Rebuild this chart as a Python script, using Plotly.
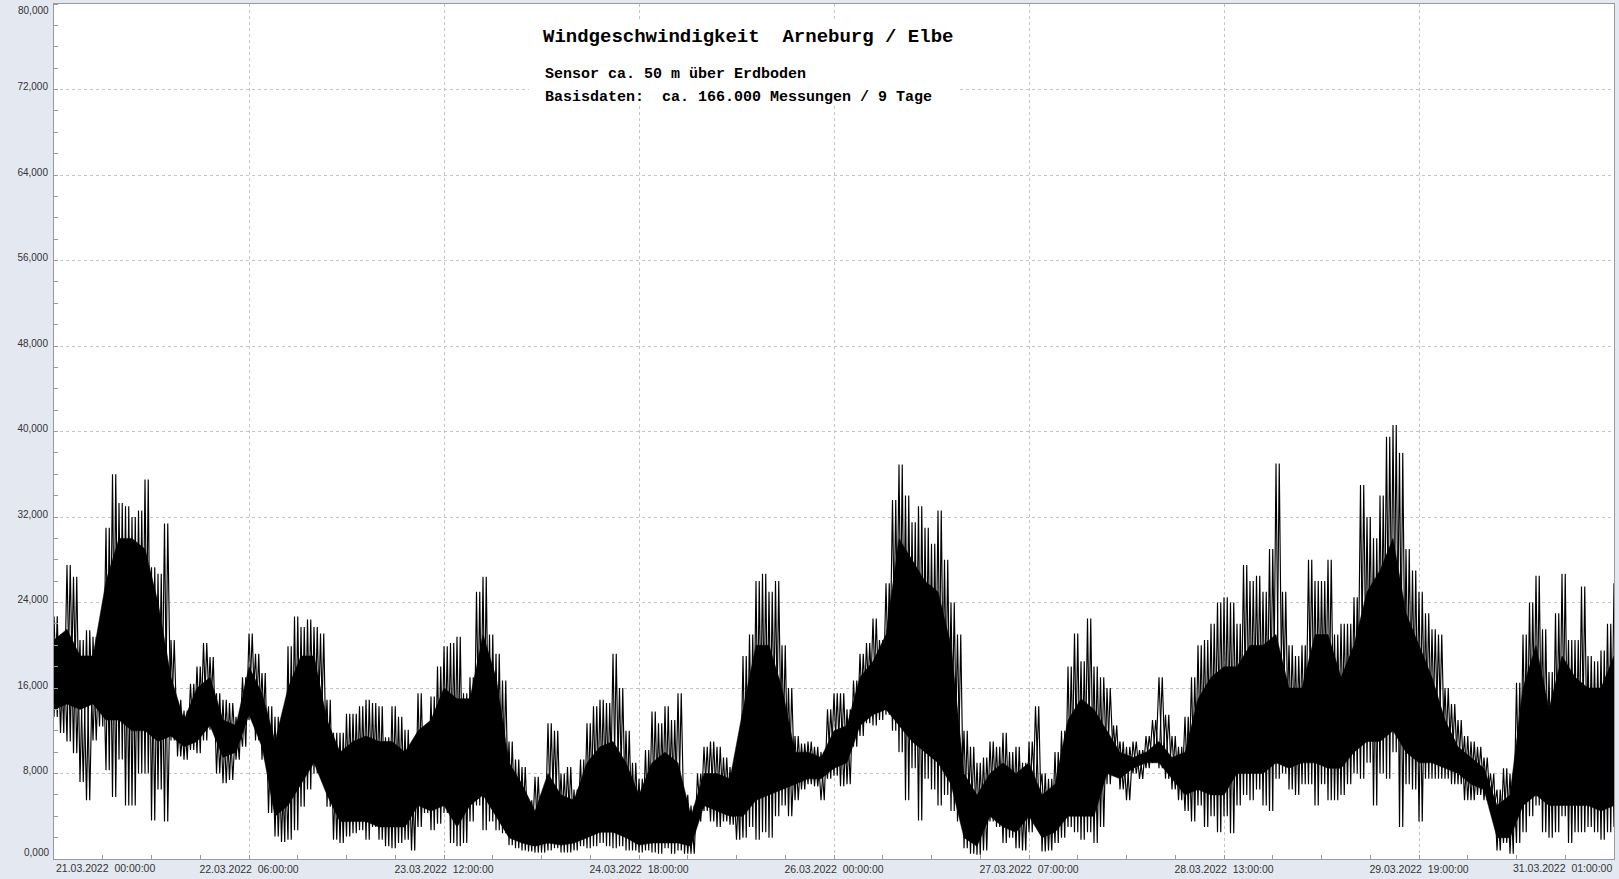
import plotly.graph_objects as go

# --- data (wind speed) ------------------------------------------------------
# hours since 21.03.2022 00:00, one envelope value per hour
hours = list(range(0, 241))
# upper spike envelope per hour
upper = [
    22.7, 21.0, 27.5, 26.4, 20.5, 21.4, 20.8, 21.1, 31.0, 36.0,
    33.3, 33.0, 32.0, 32.6, 35.5, 27.3, 26.7, 31.4, 20.5, 14.9,
    13.9, 16.4, 18.0, 20.2, 18.9, 15.5, 14.9, 14.6, 13.3, 17.0,
    21.1, 19.2, 17.4, 14.3, 13.3, 11.1, 19.9, 22.7, 21.7, 22.4,
    21.7, 21.1, 14.9, 11.8, 11.8, 13.6, 13.6, 14.3, 14.9, 14.6,
    14.3, 11.4, 14.3, 13.3, 12.1, 10.2, 15.5, 12.1, 15.2, 18.0,
    19.9, 20.2, 20.8, 15.5, 17.0, 25.0, 26.4, 21.0, 19.2, 16.7,
    11.0, 9.3, 8.6, 5.5, 7.7, 5.5, 12.7, 12.0, 8.0, 8.6,
    6.5, 9.3, 12.7, 14.3, 14.9, 14.6, 19.2, 16.0, 12.0, 9.0,
    7.5, 10.2, 13.8, 12.7, 14.3, 13.0, 15.5, 6.0, 5.0, 8.0,
    10.5, 11.0, 10.5, 9.5, 8.6, 9.0, 19.0, 21.0, 26.0, 26.7,
    25.0, 26.0, 20.0, 16.0, 11.5, 10.8, 11.0, 10.5, 10.0, 14.0,
    15.5, 15.5, 14.0, 16.7, 19.2, 20.2, 22.5, 20.5, 25.8, 33.6,
    36.9, 34.0, 31.5, 33.0, 31.0, 29.5, 32.6, 28.0, 24.0, 21.0,
    12.0, 10.5, 9.0, 9.5, 11.0, 10.5, 11.8, 10.0, 10.5, 9.0,
    11.0, 14.3, 8.0, 7.5, 10.0, 12.0, 18.0, 21.1, 18.5, 22.5,
    18.0, 17.0, 16.0, 12.5, 11.0, 10.5, 11.0, 10.2, 11.5, 13.0,
    17.0, 13.5, 11.5, 10.5, 13.3, 17.0, 20.0, 20.5, 22.0, 24.0,
    24.5, 24.0, 22.0, 27.5, 26.0, 26.5, 25.0, 29.0, 37.0, 25.0,
    20.0, 19.0, 20.0, 28.0, 26.0, 26.0, 28.0, 21.0, 22.0, 22.0,
    24.5, 35.0, 32.0, 30.0, 34.0, 39.5, 40.6, 38.0, 29.0, 27.0,
    25.0, 23.0, 21.5, 21.0, 16.0, 14.5, 13.0, 11.5, 11.0, 10.5,
    9.5, 8.0, 6.5, 8.5, 8.0, 16.5, 21.0, 24.0, 26.5, 21.5,
    17.5, 23.0, 26.7, 20.5, 20.5, 25.5, 19.0, 18.5, 19.5, 22.0, 25.8,
]
# lower spike envelope per hour
lower = [
    13.3, 11.8, 11.0, 9.9, 7.2, 5.5, 11.1, 12.4, 8.3, 5.8,
    9.3, 5.0, 5.0, 8.0, 8.0, 3.6, 6.5, 3.5, 11.1, 9.6,
    9.3, 10.2, 9.9, 11.1, 12.1, 8.0, 7.1, 7.4, 9.3, 10.5,
    13.0, 11.1, 9.3, 4.3, 2.1, 1.6, 1.8, 2.7, 4.9, 6.5,
    8.0, 8.0, 4.9, 1.8, 1.5, 2.1, 2.4, 2.7, 1.8, 3.0,
    1.8, 1.2, 1.0, 1.5, 1.8, 0.8, 3.0, 4.3, 2.7, 3.3,
    4.3, 1.5, 1.2, 1.5, 3.5, 5.0, 2.7, 3.5, 2.7, 2.4,
    1.3, 1.0, 0.8, 0.7, 0.6, 0.6, 0.8, 1.0, 0.6, 0.6,
    0.8, 1.2, 1.0, 1.2, 1.5, 1.2, 1.0, 1.2, 0.8, 0.8,
    0.6, 0.8, 0.6, 0.5, 1.0, 0.5, 0.8, 0.5, 0.5, 3.5,
    4.5, 3.5, 3.0, 3.5, 3.2, 1.8, 2.0, 3.0, 1.8, 2.5,
    2.0, 4.0, 5.0, 4.0, 5.5, 6.5, 7.0, 6.8, 5.5, 7.5,
    7.8, 6.8, 7.0, 10.5, 11.5, 12.7, 12.5, 13.0, 13.5, 12.0,
    10.0, 5.5, 8.5, 3.6, 7.5, 6.5, 5.0, 6.0, 4.5, 3.5,
    1.0, 0.5, 0.4, 0.8, 3.5, 3.0, 1.5, 2.0, 1.0, 0.8,
    2.5, 5.5, 0.7, 0.8, 1.5, 2.0, 3.0, 2.5, 1.8, 2.5,
    1.5, 3.0, 7.0, 8.5, 6.5, 5.5, 8.0, 7.5, 8.5, 9.0,
    8.5, 7.5, 6.5, 5.5, 4.5, 3.5, 5.0, 3.0, 4.0, 2.5,
    4.0, 2.4, 5.0, 6.0, 5.5, 6.5, 5.0, 4.5, 7.5, 8.0,
    6.5, 6.0, 7.0, 7.0, 5.0, 7.0, 5.5, 5.5, 6.0, 7.0,
    8.0, 7.5, 9.0, 5.0, 8.0, 7.5, 10.0, 3.0, 7.0, 6.5,
    3.5, 7.5, 7.5, 7.5, 7.5, 7.0, 7.0, 5.5, 5.5, 6.0,
    5.5, 4.5, 0.8, 1.5, 0.5, 1.5, 2.5, 4.0, 5.0, 2.5,
    2.0, 2.5, 4.0, 1.5, 2.5, 2.5, 3.0, 2.5, 1.8, 2.5, 3.0,
]
# dense core band, one value every 2 hours
core_hours = list(range(0, 241, 2))
core_hi = [
    20.5, 21.5, 19, 19, 26, 30, 30, 29, 24, 17,
    13, 16, 17, 13, 12.5, 18, 15.5, 11, 16, 19,
    19, 13, 10, 11, 11.5, 11, 11, 10, 12, 13,
    16, 15, 15, 21, 17, 9, 7, 4.5, 8, 6,
    5.5, 9, 10.5, 11, 9, 6, 9, 10, 9, 4,
    8, 8, 7.5, 14, 20, 20, 16, 10, 10, 9.5,
    12, 12.5, 17, 18.5, 21, 30, 28, 26, 25, 20,
    8, 6, 8, 9, 8, 9, 6, 7, 13, 15,
    14, 12, 10, 9.5, 10, 11, 9.5, 10, 15, 17,
    18, 18, 20, 20, 21, 16, 16, 21, 21, 17,
    20, 25, 27, 30, 23, 20, 17, 13, 10.5, 9.5,
    8.5, 5, 6, 16, 20, 14, 19, 17, 16, 16,
    19,
]
core_lo = [
    14, 14.5, 14, 14.5, 13, 13, 12, 12, 11, 11.5,
    10.5, 11, 12.5, 9.5, 10, 13.5, 10.5, 4, 5, 7,
    9, 6, 3.5, 3.5, 3.5, 3, 3, 3, 5, 4.5,
    5, 3, 5, 6, 4, 2, 1.5, 1.2, 1.5, 1.3,
    1.5, 2, 2.5, 2.5, 2, 1.3, 1.5, 1.5, 1.5, 1.2,
    5, 4.5, 4, 4, 5.5, 6, 6.5, 7, 7.5, 7.5,
    8.5, 9, 12.5, 13.5, 14, 12.5, 11, 10, 9, 7,
    2, 1.2, 4, 3, 2.5, 4, 2, 2.5, 4, 4,
    4, 8, 7.5, 8.5, 9, 9, 7.5, 6, 6.5, 6,
    6, 8, 8, 8, 9, 8.5, 9, 9, 8.5, 8.5,
    10, 11, 11, 12, 10, 9, 9, 8.5, 8, 7,
    6.5, 2, 2, 5, 6, 5, 5, 5, 5, 4.5,
    5,
]
# y-axis ticks (German decimal comma)
y_ticks = [0, 8, 16, 24, 32, 40, 48, 56, 64, 72, 80]
y_labels = ["0,000", "8,000", "16,000", "24,000", "32,000", "40,000",
            "48,000", "56,000", "64,000", "72,000", "80,000"]
# x-axis tick labels (every 30 h)
tick_hours = [0, 30, 60, 90, 120, 150, 180, 210, 240]
tick_labels = [
    "21.03.2022  00:00:00", "22.03.2022  06:00:00", "23.03.2022  12:00:00",
    "24.03.2022  18:00:00", "26.03.2022  00:00:00", "27.03.2022  07:00:00",
    "28.03.2022  13:00:00", "29.03.2022  19:00:00", "31.03.2022  01:00:00",
]
title = "Windgeschwindigkeit  Arneburg / Elbe"
sub1 = "Sensor ca. 50 m über Erdboden"
sub2 = "Basisdaten:  ca. 166.000 Messungen / 9 Tage"

# --- figure -----------------------------------------------------------------
W, H = 1619, 879
ML, MR, MT, MB = 54, 5, 4, 20
pw, ph = W - ML - MR, H - MT - MB

fig = go.Figure()

# solid core band
fig.add_trace(go.Scatter(
    x=core_hours + core_hours[::-1],
    y=core_hi + core_lo[::-1],
    fill="toself", fillcolor="#000000",
    mode="lines", line=dict(color="#000000", width=0.5),
    hoverinfo="skip", showlegend=False,
))

# spiky zig-zags between upper and lower envelopes (two phases)
ax_, ay_, bx_, by_ = [], [], [], []
for t, u, l in zip(hours, upper, lower):
    ax_ += [t, t + 0.5]
    ay_ += [u, l]
    bx_ += [t, t + 0.5]
    by_ += [l, u]
for xs, ys in ((ax_, ay_), (bx_, by_)):
    fig.add_trace(go.Scatter(
        x=xs, y=ys, mode="lines",
        line=dict(color="#000000", width=1.15),
        hoverinfo="skip", showlegend=False,
    ))

nb = "\u00a0"
mid_text = [s.replace(" ", nb) for s in tick_labels]
mid_text[0] = ""
mid_text[-1] = ""
ytext = list(y_labels)
ytext[0] = ""
ytext[-1] = ""

grid_col = "#c4c4c4"
axis_col = "#9a9a9a"
tickfont = dict(family="Liberation Sans, Arial, sans-serif", size=10, color="#333333")
xtickfont = dict(family="Liberation Sans, Arial, sans-serif", size=10.5, color="#333333")

fig.update_layout(
    width=W, height=H,
    margin=dict(l=ML, r=MR, t=MT, b=MB, pad=0, autoexpand=False),
    paper_bgcolor="#e4e8f0",
    plot_bgcolor="#ffffff",
    showlegend=False,
    xaxis=dict(
        range=[0, 240], tickmode="array", tickvals=tick_hours, ticktext=mid_text,
        showgrid=True, gridcolor=grid_col, griddash="3px,3px", gridwidth=1,
        zeroline=False, showline=True, mirror=True, linecolor=axis_col, linewidth=1,
        ticks="inside", ticklen=4, tickcolor=axis_col,
        minor=dict(tickmode="linear", tick0=0, dtick=7.5, ticks="inside",
                   ticklen=4, tickcolor=axis_col, showgrid=False),
        tickfont=xtickfont, ticklabelstandoff=0, automargin=False,
        ticklabeloverflow="allow",
        fixedrange=True,
    ),
    yaxis=dict(
        range=[0, 80], tickmode="array", tickvals=y_ticks, ticktext=ytext,
        showgrid=True, gridcolor=grid_col, griddash="3px,3px", gridwidth=1,
        zeroline=False, showline=True, mirror=True, linecolor=axis_col, linewidth=1,
        ticks="", minor=dict(tickmode="linear", tick0=0, dtick=2, ticks="inside",
                             ticklen=4, tickcolor=axis_col, showgrid=False),
        tickfont=tickfont, ticklabelshift=-3, ticklabelstandoff=3, automargin=False,
        ticklabeloverflow="allow",
        fixedrange=True,
    ),
)

# end labels of the y axis are kept inside the plot height as in the original
fig.add_annotation(text=y_labels[0], xref="paper", yref="y", x=0, y=y_ticks[0],
                   xanchor="right", yanchor="middle", xshift=-3, yshift=7,
                   showarrow=False, font=tickfont)
fig.add_annotation(text=y_labels[-1], xref="paper", yref="y", x=0, y=y_ticks[-1],
                   xanchor="right", yanchor="middle", xshift=-3, yshift=-6,
                   showarrow=False, font=tickfont)

# white box behind the title block
def px_x(px):
    return (px - ML) / pw

def px_y(py):
    return (H - MB - py) / ph

fig.add_shape(type="rect", xref="paper", yref="paper",
              x0=px_x(529), x1=px_x(960), y0=px_y(106), y1=px_y(19),
              fillcolor="#ffffff", line=dict(width=0), layer="above")

mono = "Liberation Mono, Courier New, monospace"
fig.add_annotation(text="<b>" + title.replace(" ", nb) + "</b>", xref="paper", yref="paper",
                   x=px_x(541), y=px_y(37), xanchor="left", yanchor="middle",
                   showarrow=False, font=dict(family=mono, size=19, color="#000000"))
fig.add_annotation(text="<b>" + sub1.replace(" ", nb) + "</b>", xref="paper", yref="paper",
                   x=px_x(543), y=px_y(74), xanchor="left", yanchor="middle",
                   showarrow=False, font=dict(family=mono, size=15, color="#000000"))
fig.add_annotation(text="<b>" + sub2.replace(" ", nb) + "</b>", xref="paper", yref="paper",
                   x=px_x(543), y=px_y(97), xanchor="left", yanchor="middle",
                   showarrow=False, font=dict(family=mono, size=15, color="#000000"))

# first / last x labels are kept inside the plot width as in the original
fig.add_annotation(text=tick_labels[0].replace(" ", nb), xref="x", yref="paper",
                   x=tick_hours[0], y=0, xanchor="left", yanchor="top", yshift=-1,
                   showarrow=False, font=xtickfont)
fig.add_annotation(text=tick_labels[-1].replace(" ", nb), xref="x", yref="paper",
                   x=tick_hours[-1], y=0, xanchor="right", yanchor="top", yshift=-1,
                   showarrow=False, font=xtickfont)

fig.write_html(
    "out.html",
    config={"displayModeBar": False},
    post_script="document.body.style.margin='0';document.body.style.overflow='hidden';",
)
